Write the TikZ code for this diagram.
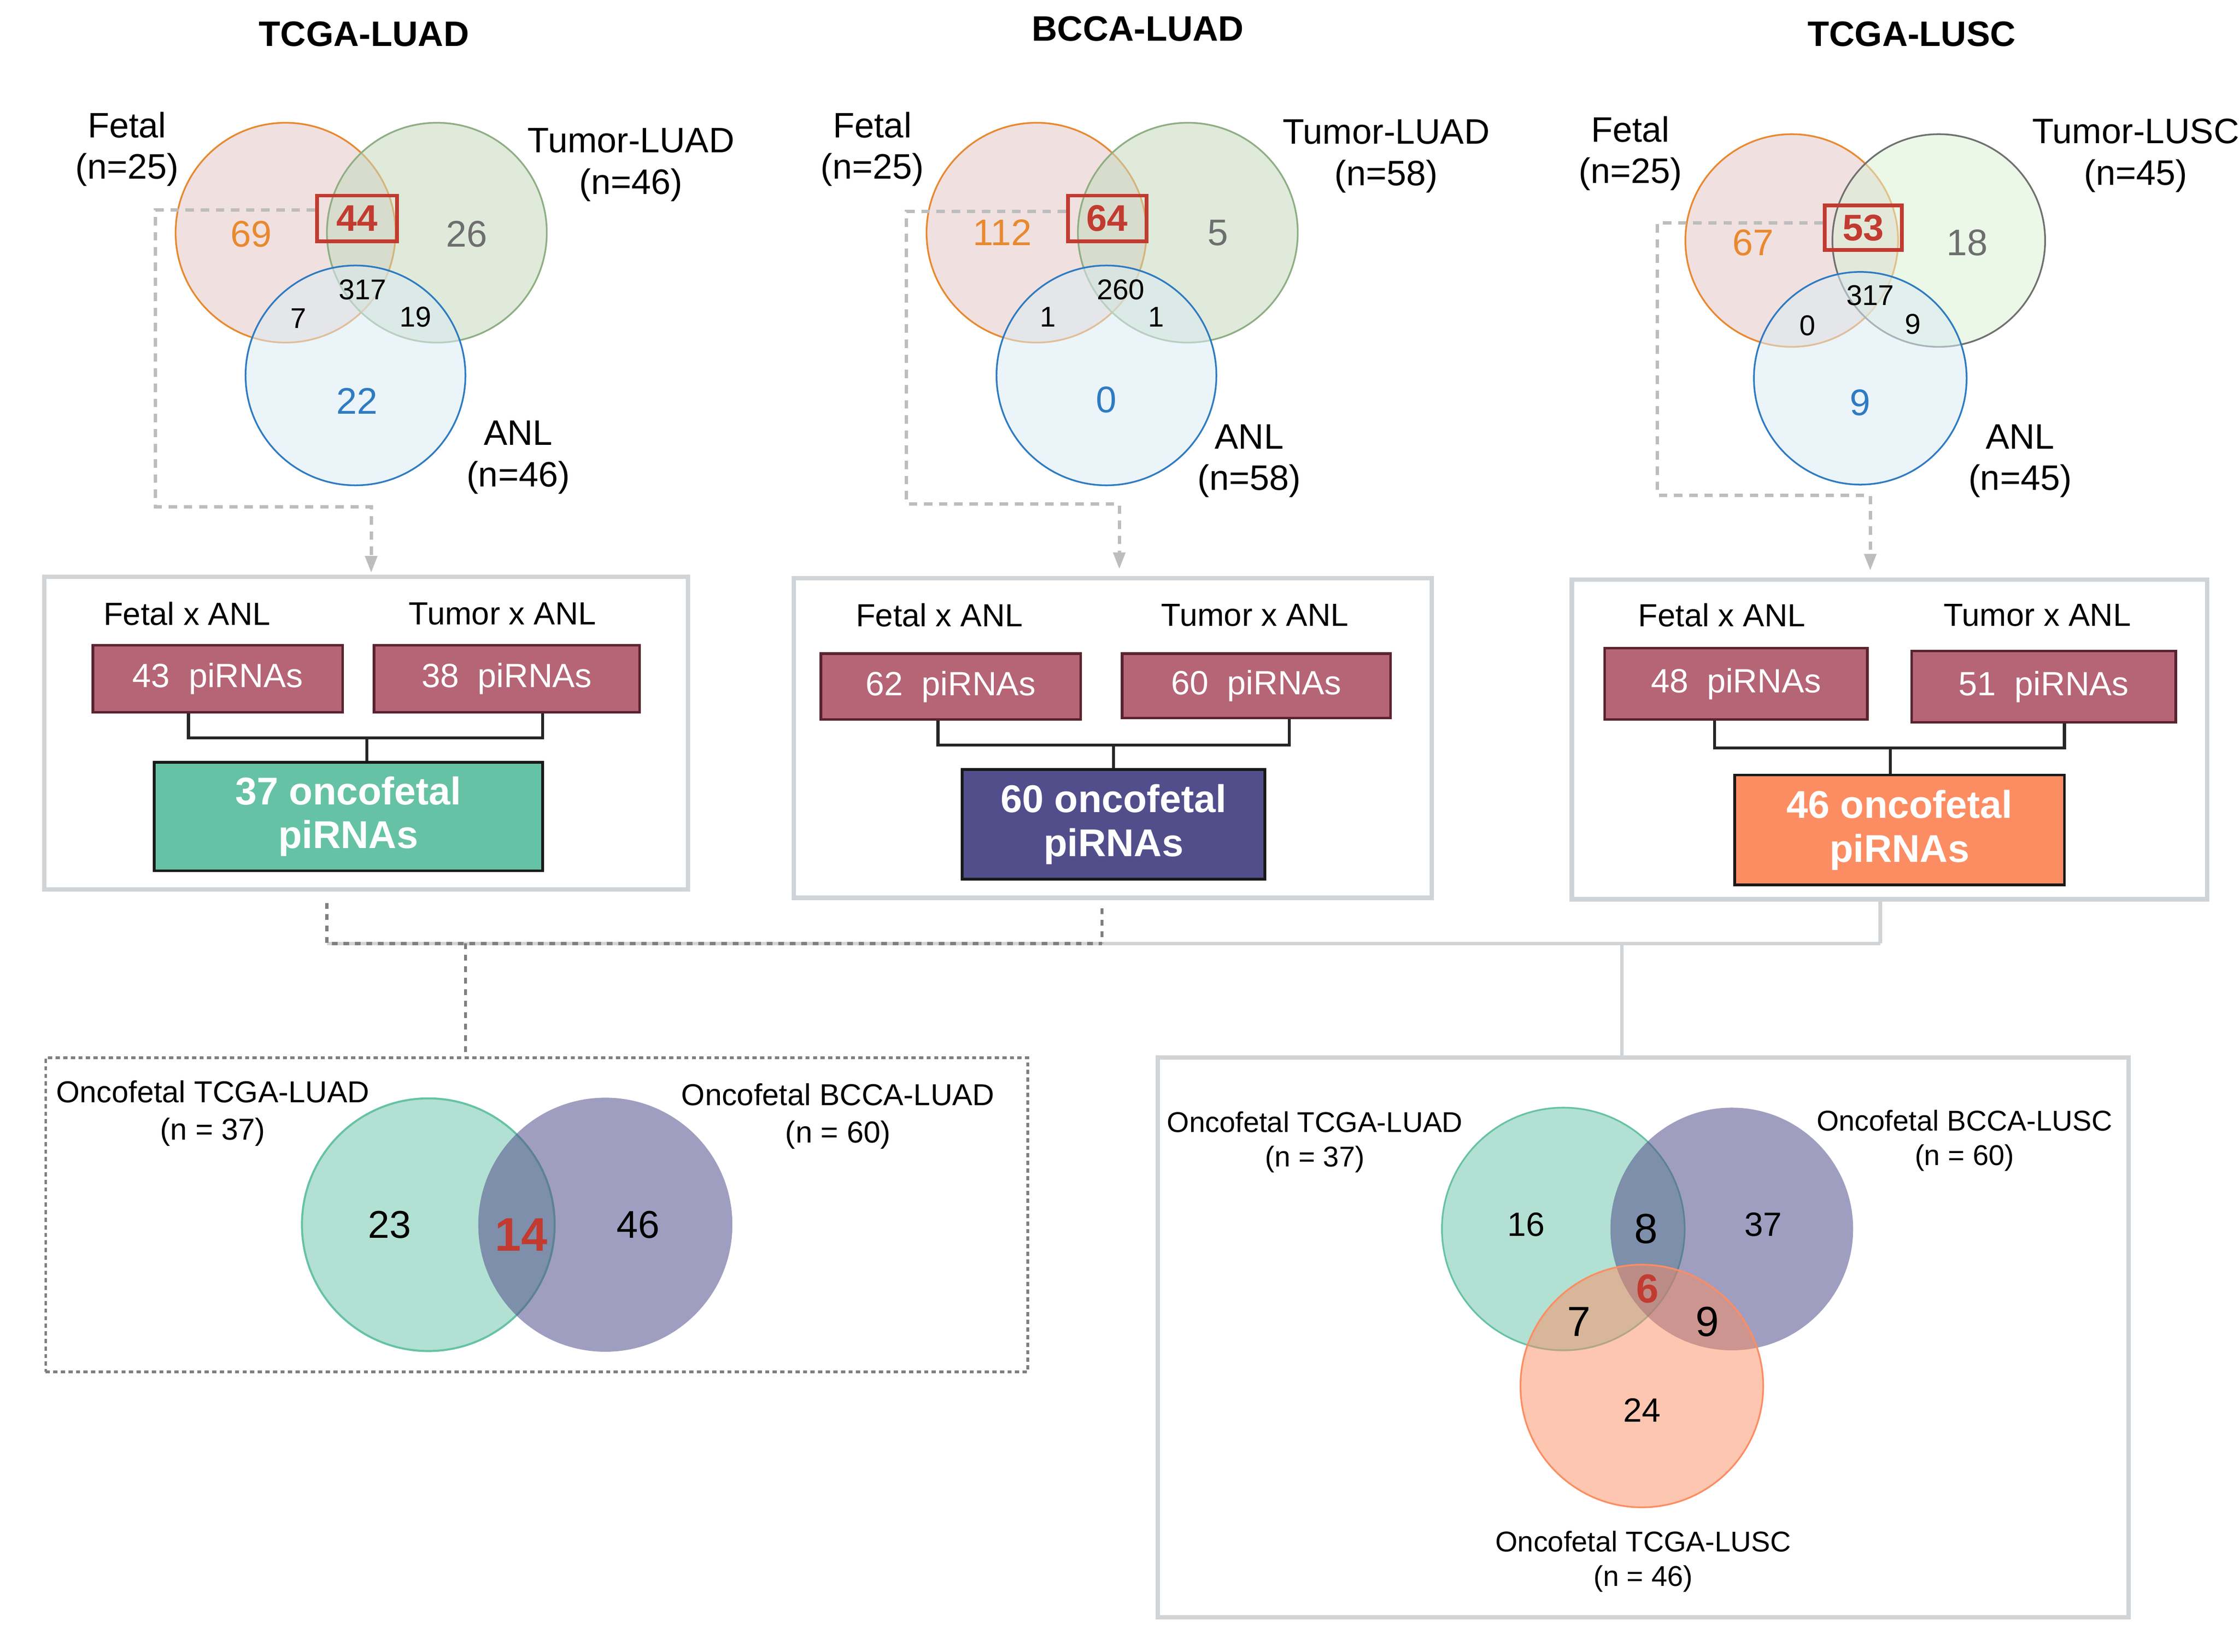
\documentclass[tikz,border=0pt]{standalone}
\usepackage{fontspec}
\setmainfont{Liberation Sans}
\usetikzlibrary{arrows.meta}
\def\U{0.02981cm}
\definecolor{boxgray}{HTML}{D1D4D7}
\definecolor{redfill}{HTML}{B56576}
\definecolor{redline}{HTML}{5A2330}
\definecolor{cgreen}{HTML}{66C2A5}
\definecolor{cpurple}{HTML}{524E8C}
\definecolor{corange}{HTML}{FC8D62}
\definecolor{hred}{HTML}{C23B30}
\definecolor{torange}{HTML}{E8892F}
\definecolor{tgray}{HTML}{6E6E6E}
\definecolor{tblue}{HTML}{2E7BC2}
\definecolor{lgdash}{HTML}{BDBDBD}
\definecolor{dgdash}{HTML}{7F7F7F}
\definecolor{fFetal}{HTML}{E5C6C6}
\definecolor{fTumor}{HTML}{C4D9BC}
\definecolor{fANL}{HTML}{DAEBF3}
\definecolor{fLUSC}{HTML}{DAF0D4}
\definecolor{sTumor}{HTML}{8FAE84}
\definecolor{sLUSC}{HTML}{707070}
\begin{document}
\begin{tikzpicture}[x=0.02981cm,y=-0.02981cm,
  ttl/.style={font=\fontsize{21}{25}\selectfont\bfseries},
  lbl/.style={font=\fontsize{21}{24.6}\selectfont, align=center},
  sublbl/.style={font=\fontsize{19}{23}\selectfont},
  olbl/.style={font=\fontsize{18}{22}\selectfont, align=center},
  olbls/.style={font=\fontsize{17}{20.4}\selectfont, align=center},
  nbig/.style={font=\fontsize{22}{26}\selectfont},
  nsm/.style={font=\fontsize{17}{20}\selectfont},
  vc/.style={circle, inner sep=0pt, line width=1pt, fill opacity=.55, draw opacity=1},
  hbox/.style={draw=hred, line width=2.2pt, text=hred, font=\fontsize{22}{26}\selectfont\bfseries, inner sep=0pt},
  gbox/.style={draw=boxgray, line width=2.6pt, inner sep=0pt},
  pbox/.style={draw=redline, fill=redfill, line width=1.6pt, text=white, font=\fontsize{20}{24}\selectfont, inner sep=0pt},
  obox/.style={draw=black!90, line width=1.6pt, text=white, font=\fontsize{23}{28}\selectfont\bfseries, align=center, inner sep=0pt},
  brk/.style={draw=black!85, line width=1.8pt},
  ldash/.style={draw=lgdash, line width=2pt, dash pattern=on 5pt off 4pt, -{Triangle[length=10pt,width=7pt]}},
  ddash/.style={draw=dgdash, line width=1.8pt, dash pattern=on 3.4pt off 3.4pt},
  sline/.style={draw=boxgray, line width=2.2pt}
]
\useasboundingbox (0,0) rectangle (1568.3,1157.3);

% ---------------- Titles ----------------
\node[ttl] (t1) at (255,24) {TCGA-LUAD};
\node[ttl] (t2) at (797,20) {BCCA-LUAD};
\node[ttl] (t3) at (1339,24) {TCGA-LUSC};

% ---------------- Panel 1 Venn ----------------
\node[vc, draw=torange, fill=fFetal, minimum size=154*\U] (f1) at (200,163) {};
\node[vc, draw=sTumor, fill=fTumor, minimum size=154*\U] (u1) at (306,163) {};
\node[vc, draw=tblue, fill=fANL, minimum size=154*\U] (a1) at (249,263) {};
\node[lbl] (lf1) at (89,104.5) {Fetal\\(n=25)};
\node[lbl] (lu1) at (442,115.5) {Tumor-LUAD\\(n=46)};
\node[lbl] (la1) at (363,320.5) {ANL\\(n=46)};
\node[nbig, text=torange] (n1a) at (176,164) {69};
\node[hbox, minimum width=56*\U, minimum height=32*\U] (h1) at (250,153) {44};
\node[nbig, text=tgray] (n1c) at (327,164) {26};
\node[nsm] (n1d) at (254,203) {317};
\node[nsm] (n1e) at (209,223) {7};
\node[nsm] (n1f) at (291,222) {19};
\node[nbig, text=tblue] (n1g) at (250,281) {22};

% ---------------- Panel 2 Venn ----------------
\node[vc, draw=torange, fill=fFetal, minimum size=154*\U] (f2) at (726,163) {};
\node[vc, draw=sTumor, fill=fTumor, minimum size=154*\U] (u2) at (832,163) {};
\node[vc, draw=tblue, fill=fANL, minimum size=154*\U] (a2) at (775,263) {};
\node[lbl] (lf2) at (611,104.5) {Fetal\\(n=25)};
\node[lbl] (lu2) at (971,109.5) {Tumor-LUAD\\(n=58)};
\node[lbl] (la2) at (875,323) {ANL\\(n=58)};
\node[nbig, text=torange] (n2a) at (702,163) {112};
\node[hbox, minimum width=55*\U, minimum height=32*\U] (h2) at (775.5,153) {64};
\node[nbig, text=tgray] (n2c) at (853,163) {5};
\node[nsm] (n2d) at (785,203) {260};
\node[nsm] (n2e) at (734,222) {1};
\node[nsm] (n2f) at (810,222) {1};
\node[nbig, text=tblue] (n2g) at (775,280) {0};

% ---------------- Panel 3 Venn ----------------
\node[vc, draw=torange, fill=fFetal, minimum size=149*\U] (f3) at (1255,168.5) {};
\node[vc, draw=sLUSC, fill=fLUSC, minimum size=149*\U] (u3) at (1358,168.5) {};
\node[vc, draw=tblue, fill=fANL, minimum size=149*\U] (a3) at (1303,265) {};
\node[lbl] (lf3) at (1142,107.5) {Fetal\\(n=25)};
\node[lbl] (lu3) at (1496,109) {Tumor-LUSC\\(n=45)};
\node[lbl] (la3) at (1415,323) {ANL\\(n=45)};
\node[nbig, text=torange] (n3a) at (1228,170) {67};
\node[hbox, minimum width=54*\U, minimum height=31*\U] (h3) at (1305,159.5) {53};
\node[nbig, text=tgray] (n3c) at (1378,170) {18};
\node[nsm] (n3d) at (1310,207) {317};
\node[nsm] (n3e) at (1266,228) {0};
\node[nsm] (n3f) at (1340,227) {9};
\node[nbig, text=tblue] (n3g) at (1303,282) {9};

% ---------------- Middle boxes ----------------
\node[gbox, minimum width=451*\U, minimum height=219*\U] (b1) at (256.5,513.5) {};
\node[gbox, minimum width=447*\U, minimum height=224*\U] (b2) at (779.5,517) {};
\node[gbox, minimum width=445*\U, minimum height=224*\U] (b3) at (1323.5,518) {};

\node[sublbl] (s1a) at (131,430) {Fetal x ANL};
\node[sublbl] (s1b) at (352,430) {Tumor x ANL};
\node[sublbl] (s2a) at (658,431) {Fetal x ANL};
\node[sublbl] (s2b) at (879,431) {Tumor x ANL};
\node[sublbl] (s3a) at (1206,431) {Fetal x ANL};
\node[sublbl] (s3b) at (1427,431) {Tumor x ANL};

\node[pbox, minimum width=175*\U, minimum height=47*\U] (r1a) at (152.5,475.5) {43~~piRNAs};
\node[pbox, minimum width=186*\U, minimum height=47*\U] (r1b) at (355,475.5) {38~~piRNAs};
\node[pbox, minimum width=182*\U, minimum height=46*\U] (r2a) at (666,481) {62~~piRNAs};
\node[pbox, minimum width=188*\U, minimum height=45*\U] (r2b) at (880,480.5) {60~~piRNAs};
\node[pbox, minimum width=184*\U, minimum height=50*\U] (r3a) at (1216,479) {48~~piRNAs};
\node[pbox, minimum width=185*\U, minimum height=50*\U] (r3b) at (1431.5,481) {51~~piRNAs};

\node[obox, fill=cgreen, minimum width=272*\U, minimum height=76*\U] (o1) at (244,572) {37 oncofetal\\[-2pt]piRNAs};
\node[obox, fill=cpurple, minimum width=212*\U, minimum height=77*\U] (o2) at (780,577.5) {60 oncofetal\\[-2pt]piRNAs};
\node[obox, fill=corange, minimum width=231*\U, minimum height=77*\U] (o3) at (1330.5,581.5) {46 oncofetal\\[-2pt]piRNAs};

% brackets
\coordinate (j1l) at (132,517); \coordinate (j1r) at (380,517); \coordinate (j1) at (257,517);
\coordinate (j2l) at (657,522); \coordinate (j2r) at (903,522); \coordinate (j2) at (780,522);
\coordinate (j3l) at (1201,524); \coordinate (j3r) at (1446,524); \coordinate (j3) at (1324,524);
\draw[brk] (j1l |- r1a.south) -- (j1l) -- (j1r) -- (j1r |- r1b.south);
\draw[brk] (j1) -- (j1 |- o1.north);
\draw[brk] (j2l |- r2a.south) -- (j2l) -- (j2r) -- (j2r |- r2b.south);
\draw[brk] (j2) -- (j2 |- o2.north);
\draw[brk] (j3l |- r3a.south) -- (j3l) -- (j3r) -- (j3r |- r3b.south);
\draw[brk] (j3) -- (j3 |- o3.north);

% dashed arrows from highlighted boxes
\coordinate (d1a) at (109,147); \coordinate (d1b) at (260,355);
\coordinate (d2a) at (635,148); \coordinate (d2b) at (784,353);
\coordinate (d3a) at (1161,156); \coordinate (d3b) at (1310,347);
\draw[ldash] (d1a -| h1.west) -- (d1a) |- (d1b) -- ([yshift=1pt]d1b |- b1.north);
\draw[ldash] (d2a -| h2.west) -- (d2a) |- (d2b) -- ([yshift=4pt]d2b |- b2.north);
\draw[ldash] (d3a -| h3.west) -- (d3a) |- (d3b) -- ([yshift=4pt]d3b |- b3.north);

% ---------------- Lower connectors ----------------
\coordinate (m1) at (229,661);
\coordinate (m2) at (772,661);
\coordinate (m3) at (1317,661);
\coordinate (mL) at (326,661);
\coordinate (mR) at (1136,661);
\draw[sline] (m1) -- (m3);
\draw[sline] (m3 |- b3.south) -- (m3);
\draw[ddash] ([yshift=-8*\U]m1 |- b1.south) -- (m1) -- (m2);
\draw[ddash] ([yshift=-6*\U]m2 |- b2.south) -- (m2);

% ---------------- Bottom boxes ----------------
\node[draw=dgdash, line width=1.6pt, dash pattern=on 2.5pt off 2pt, inner sep=0pt, minimum width=688*\U, minimum height=220*\U] (bl) at (376,851) {};
\node[gbox, minimum width=680*\U, minimum height=392*\U] (br) at (1151,937) {};
\draw[ddash] (mL) -- ([yshift=3*\U]mL |- bl.north);
\draw[sline] (mR) -- (mR |- br.north);

% bottom-left Venn
\node[circle, inner sep=0pt, minimum size=177*\U, fill=cgreen, fill opacity=.5, draw=cgreen, draw opacity=1, line width=1.2pt] (g1) at (300,858) {};
\node[circle, inner sep=0pt, minimum size=178*\U, fill=cpurple, fill opacity=.55] (p1) at (424,858) {};
\node[olbl] (bl1) at (149,780) {Oncofetal TCGA-LUAD\\(n = 37)};
\node[olbl] (bl2) at (587,782) {Oncofetal BCCA-LUAD\\(n = 60)};
\node[font=\fontsize{23}{27}\selectfont] (bn1) at (273,858) {23};
\node[font=\fontsize{28}{32}\selectfont\bfseries, text=hred] (bn2) at (365,865) {14};
\node[font=\fontsize{23}{27}\selectfont] (bn3) at (447,858) {46};

% bottom-right Venn
\node[circle, inner sep=0pt, minimum size=170*\U, fill=cgreen, fill opacity=.5, draw=cgreen, draw opacity=1, line width=1pt] (g2) at (1095,861) {};
\node[circle, inner sep=0pt, minimum size=170*\U, fill=cpurple, fill opacity=.55] (p2) at (1213,861) {};
\node[circle, inner sep=0pt, minimum size=170*\U, fill=corange, fill opacity=.5, draw=corange, draw opacity=1, line width=1pt] (c2) at (1150,971) {};
\node[olbls] (br1) at (921,800) {Oncofetal TCGA-LUAD\\(n = 37)};
\node[olbls] (br2) at (1376,799) {Oncofetal BCCA-LUSC\\(n = 60)};
\node[olbls] (br3) at (1151,1094) {Oncofetal TCGA-LUSC\\(n = 46)};
\node[font=\fontsize{20}{24}\selectfont] (rn1) at (1069,858) {16};
\node[font=\fontsize{25}{29}\selectfont] (rn2) at (1153,861) {8};
\node[font=\fontsize{20}{24}\selectfont] (rn3) at (1235,858) {37};
\node[font=\fontsize{24}{28}\selectfont\bfseries, text=hred] (rn4) at (1154,903) {6};
\node[font=\fontsize{25}{29}\selectfont] (rn5) at (1106,926) {7};
\node[font=\fontsize{25}{29}\selectfont] (rn6) at (1196,926) {9};
\node[font=\fontsize{20}{24}\selectfont] (rn7) at (1150,988) {24};
\end{tikzpicture}
\end{document}
